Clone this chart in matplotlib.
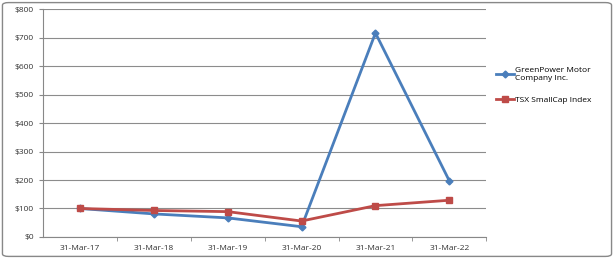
import matplotlib.pyplot as plt
from matplotlib.patches import FancyBboxPatch

dates = ["31-Mar-17", "31-Mar-18", "31-Mar-19", "31-Mar-20", "31-Mar-21", "31-Mar-22"]
greenpower = [100, 81, 67, 36, 716, 197]
tsx_smallcap = [100, 93, 89, 56, 110, 129]
y_ticks = [0, 100, 200, 300, 400, 500, 600, 700, 800]

plt.rcParams['font.family'] = ['Open Sans', 'DejaVu Sans']

fig = plt.figure(figsize=(6.14, 2.59), dpi=100)
ax = fig.add_axes([0.070, 0.085, 0.722, 0.880])

x = list(range(len(dates)))
ax.plot(x, greenpower, color='#4a7ebb', lw=2, marker='D', ms=3.5,
        label='GreenPower Motor\nCompany Inc.')
ax.plot(x, tsx_smallcap, color='#be4b48', lw=2, marker='s', ms=5,
        label='TSX SmallCap Index')

ax.set_xlim(-0.5, len(dates) - 0.5)
ax.set_ylim(0, 800)
ax.set_yticks(y_ticks)
ax.set_yticklabels(["$%d" % v for v in y_ticks])
ax.set_xticks(x)
ax.set_xticklabels(dates)
ax.set_xticks([i + 0.5 for i in range(len(dates))], minor=True)
ax.tick_params(axis='x', which='major', length=0, labelsize=6, pad=6, colors='#333333')
ax.tick_params(axis='x', which='minor', length=3, color='#888888')
ax.tick_params(axis='y', length=3, labelsize=6, colors='#888888', labelcolor='#333333')
ax.grid(axis='y', color='#8c8c8c', lw=0.8)
ax.set_axisbelow(True)
for s in ['top', 'right']:
    ax.spines[s].set_visible(False)
for s in ['left', 'bottom']:
    ax.spines[s].set_color('#888888')

ax.legend(loc='center left', bbox_to_anchor=(1.005, 0.665), frameon=False,
          fontsize=6, handlelength=2.2, handletextpad=0.1, labelspacing=1.8)

border = FancyBboxPatch((0.004, 0.01), 0.992, 0.98, boxstyle='round,pad=0,rounding_size=0.01',
                        transform=fig.transFigure, fill=False, edgecolor='#888888', lw=1)
fig.patches.append(border)

fig.savefig('out.png', dpi=100)
